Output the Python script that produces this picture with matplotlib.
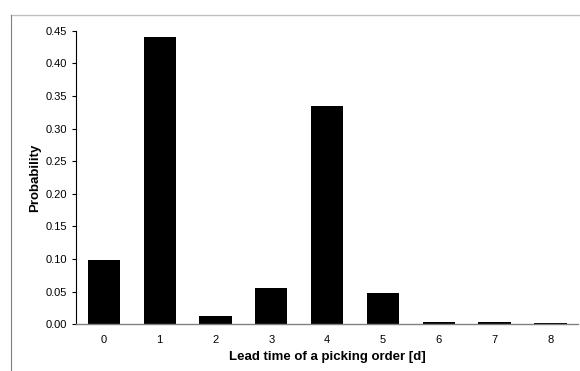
import matplotlib

matplotlib.use("Agg")
import matplotlib.pyplot as plt
from matplotlib.lines import Line2D

# lead time (days) and probability
lead_days = [0, 1, 2, 3, 4, 5, 6, 7, 8]
probability = [0.099, 0.441, 0.012, 0.056, 0.335, 0.048, 0.004, 0.003, 0.0015]
y_ticks = [0.00, 0.05, 0.10, 0.15, 0.20, 0.25, 0.30, 0.35, 0.40, 0.45]

plt.rcParams["font.family"] = ["Liberation Sans", "DejaVu Sans"]

fig = plt.figure(figsize=(5.8, 3.71), dpi=100)
ax = fig.add_axes([0.131, 0.126, 0.866, 0.791])

ax.bar(lead_days, probability, width=0.58, color="black")

ax.set_xlim(-0.5, 8.5)
ax.set_ylim(0, 0.45)
ax.set_xticks(lead_days)
ax.set_yticks(y_ticks)
ax.set_yticklabels([f"{v:.2f}" for v in y_ticks])
ax.tick_params(axis="x", length=0, pad=7.5, labelsize=8)
ax.tick_params(axis="y", direction="out", length=3, width=0.8, pad=3.5, labelsize=8)

for side in ("top", "right"):
    ax.spines[side].set_visible(False)
ax.spines["left"].set_color("black")
ax.spines["left"].set_linewidth(0.8)
ax.spines["bottom"].set_color("#808080")
ax.spines["bottom"].set_linewidth(1.0)

ax.set_xlabel("Lead time of a picking order [d]", fontsize=9.5, fontweight="bold", labelpad=4.5)
ax.set_ylabel("Probability", fontsize=9.5, fontweight="bold", labelpad=3)

# outer frame lines (top and left only)
fig.add_artist(Line2D([10.5 / 580, 1.0], [1 - 15.3 / 371, 1 - 15.3 / 371],
                      transform=fig.transFigure, color="#c0c0c0", linewidth=1.0))
fig.add_artist(Line2D([10.5 / 580, 10.5 / 580], [0, 1 - 15.3 / 371],
                      transform=fig.transFigure, color="#808080", linewidth=0.8))

fig.savefig("out.png", dpi=100)
